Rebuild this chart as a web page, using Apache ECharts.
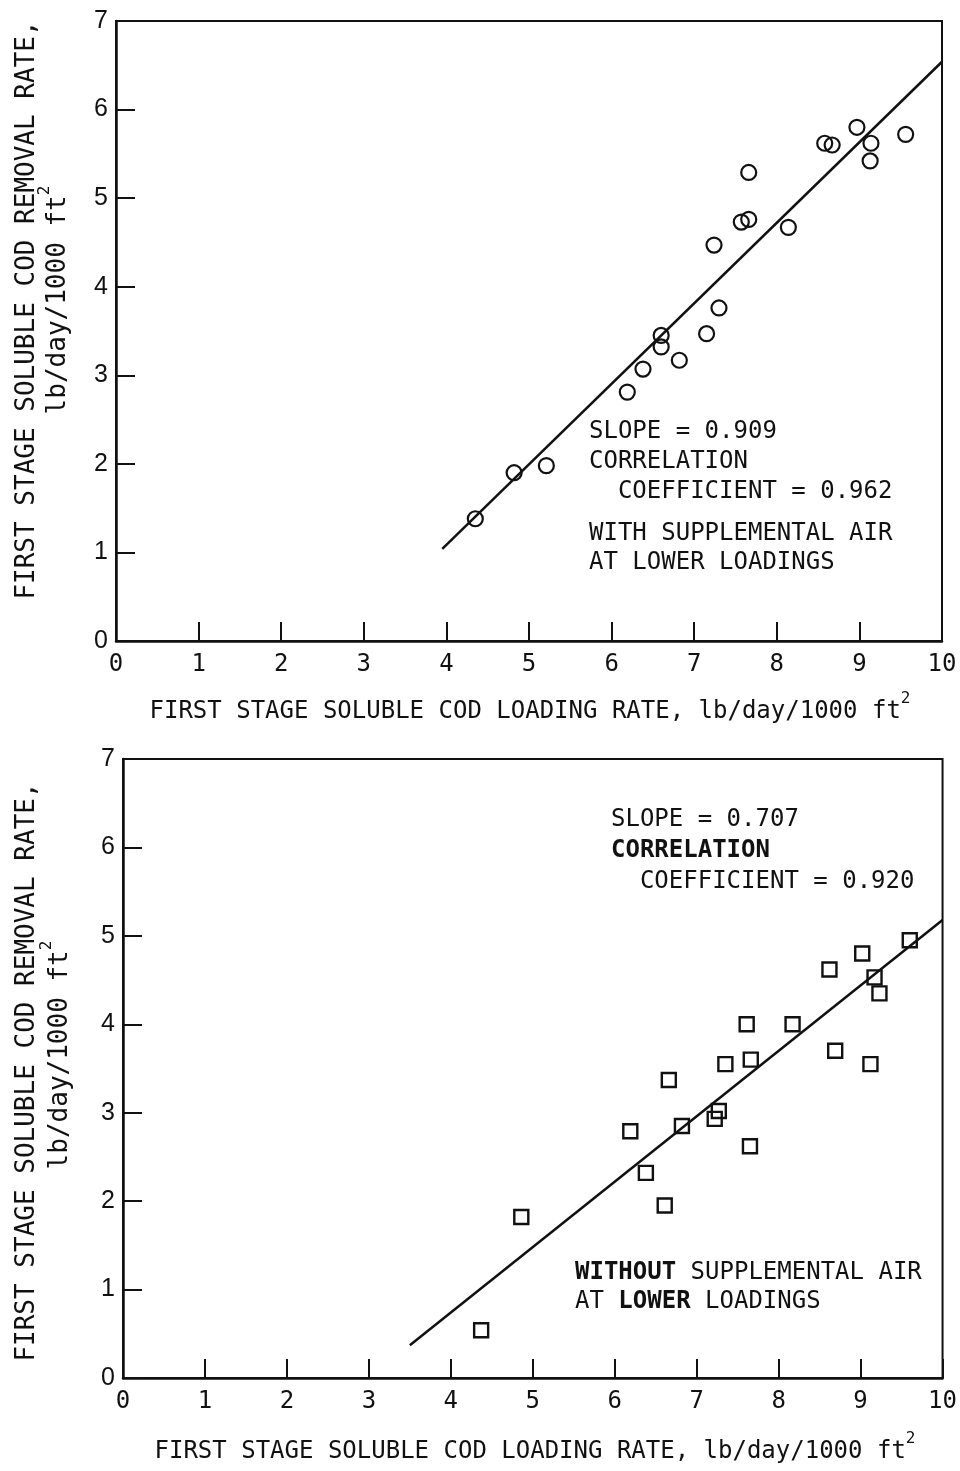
<!DOCTYPE html>
<html>
<head>
<meta charset="UTF-8">
<title></title>
<style>
	html,body{ margin:0; background:#fff; }
	#chart{ width:960px; height:1471px; }
</style>
</head>
<body>
<div id="chart"></div>
<script src="https://cdn.jsdelivr.net/npm/echarts@6/dist/echarts.min.js"></script>
<script>
// top panel - with supplemental air at lower loadings
var withAirX = [4.35, 4.82, 5.21, 6.19, 6.38, 6.60, 6.60, 6.82, 7.15, 7.30, 7.24, 7.57, 7.66, 7.66, 8.14, 8.58, 8.67, 8.97, 9.14, 9.13, 9.56];
var withAirY = [1.38, 1.90, 1.98, 2.81, 3.07, 3.45, 3.32, 3.17, 3.47, 3.76, 4.47, 4.73, 4.76, 5.29, 4.67, 5.62, 5.60, 5.80, 5.62, 5.42, 5.72];
var withAirFitX = [3.95, 10];
var withAirFitY = [1.04, 6.54];

// bottom panel - without supplemental air
var noAirX = [4.37, 4.86, 6.19, 6.38, 6.61, 6.66, 6.82, 7.22, 7.27, 7.35, 7.61, 7.65, 7.66, 8.17, 8.62, 8.69, 9.02, 9.12, 9.17, 9.23, 9.60];
var noAirY = [0.54, 1.82, 2.79, 2.32, 1.95, 3.37, 2.85, 2.93, 3.02, 3.55, 4.00, 2.62, 3.60, 4.00, 4.62, 3.70, 4.80, 3.55, 4.53, 4.35, 4.95];
var noAirFitX = [3.5, 10];
var noAirFitY = [0.37, 5.18];

var xMin = 0, xMax = 10, yMin = 0, yMax = 7;

var mono = '"DejaVu Sans Mono", "Liberation Mono", monospace';
var ink = '#111';

function pairs(xs, ys) {
	var res = [];
	for (var i = 0; i < xs.length; i++) res.push([xs[i], ys[i]]);
	return res;
}

function xAxisOf(idx) {
	return {
		type: 'value', gridIndex: idx, min: xMin, max: xMax, interval: 1,
		axisLine: { onZero: false, lineStyle: { color: ink, width: 2.5 } },
		axisTick: { inside: true, length: 19, lineStyle: { color: ink, width: 2 } },
		axisLabel: { color: ink, fontFamily: mono, fontSize: 24, margin: 12 },
		splitLine: { show: false }
	};
}
function yAxisOf(idx) {
	return {
		type: 'value', gridIndex: idx, min: yMin, max: yMax, interval: 1,
		axisLine: { onZero: false, lineStyle: { color: ink, width: 2.5 } },
		axisTick: { inside: true, length: 19, lineStyle: { color: ink, width: 2 } },
		axisLabel: { color: ink, fontFamily: '"Liberation Sans", Arial, sans-serif', fontSize: 25, margin: 8 },
		splitLine: { show: false }
	};
}

var sup = { s: { fontSize: 16, fontFamily: mono, fill: ink, padding: [0, 0, 26, 0], verticalAlign: 'bottom' },
			b: { fontSize: 24, fontFamily: mono, fill: ink, fontWeight: 'bold' } };

function txt(x, y, s, opt) {
	var st = { text: s, fontFamily: mono, fontSize: 24, fill: ink,
		textAlign: 'left', align: 'left', textVerticalAlign: 'middle', verticalAlign: 'middle', rich: sup };
	if (opt) for (var k in opt) st[k] = opt[k];
	return { type: 'text', x: x, y: y, style: st };
}
function vtxt(x, y, s) {
	var t = txt(x, y, s, { textAlign: 'center', align: 'center', fontSize: 26 });
	t.rotation = Math.PI / 2;
	return t;
}

var chart = echarts.init(document.getElementById('chart'));
chart.setOption({
	animation: false,
	backgroundColor: '#fff',
	grid: [
		{ left: 116, right: 18, top: 21, height: 620, show: true, borderColor: ink, borderWidth: 2 },
		{ left: 123, right: 14, top: 759, height: 619, show: true, borderColor: ink, borderWidth: 2 }
	],
	xAxis: [xAxisOf(0), xAxisOf(1)],
	yAxis: [yAxisOf(0), yAxisOf(1)],
	series: [
		{ type: 'line', xAxisIndex: 0, yAxisIndex: 0, data: pairs(withAirFitX, withAirFitY), symbol: 'none',
		  lineStyle: { color: ink, width: 2.5 } },
		{ type: 'scatter', xAxisIndex: 0, yAxisIndex: 0, data: pairs(withAirX, withAirY), symbol: 'circle', symbolSize: 15,
		  itemStyle: { color: 'rgba(0,0,0,0)', borderColor: ink, borderWidth: 2.2, opacity: 1 } },
		{ type: 'line', xAxisIndex: 1, yAxisIndex: 1, data: pairs(noAirFitX, noAirFitY), symbol: 'none',
		  lineStyle: { color: ink, width: 2.5 } },
		{ type: 'scatter', xAxisIndex: 1, yAxisIndex: 1, data: pairs(noAirX, noAirY), symbol: 'rect', symbolSize: 14,
		  itemStyle: { color: 'rgba(0,0,0,0)', borderColor: ink, borderWidth: 2.4, opacity: 1 } }
	],
	graphic: [
		// axis titles
		txt(530, 712, 'FIRST STAGE SOLUBLE COD LOADING RATE, lb/day/1000 ft{s|2}', { textAlign: 'center', align: 'center' }),
		txt(535, 1452, 'FIRST STAGE SOLUBLE COD LOADING RATE, lb/day/1000 ft{s|2}', { textAlign: 'center', align: 'center' }),
		vtxt(27, 310, 'FIRST STAGE SOLUBLE COD REMOVAL RATE,'),
		vtxt(58, 300, 'lb/day/1000 ft{s|2}'),
		vtxt(27, 1072, 'FIRST STAGE SOLUBLE COD REMOVAL RATE,'),
		vtxt(60, 1055, 'lb/day/1000 ft{s|2}'),
		// top annotation
		txt(589, 432, 'SLOPE = 0.909'),
		txt(589, 462, 'CORRELATION'),
		txt(589, 492, '  COEFFICIENT = 0.962'),
		txt(589, 534, 'WITH SUPPLEMENTAL AIR'),
		txt(589, 563, 'AT LOWER LOADINGS'),
		// bottom annotation
		txt(611, 820, 'SLOPE = 0.707'),
		txt(611, 851, '{b|CORRELATION}'),
		txt(611, 882, '  COEFFICIENT = 0.920'),
		txt(575, 1273, '{b|WITHOUT} SUPPLEMENTAL AIR'),
		txt(575, 1302, 'AT {b|LOWER} LOADINGS')
	]
});
</script>
</body>
</html>
